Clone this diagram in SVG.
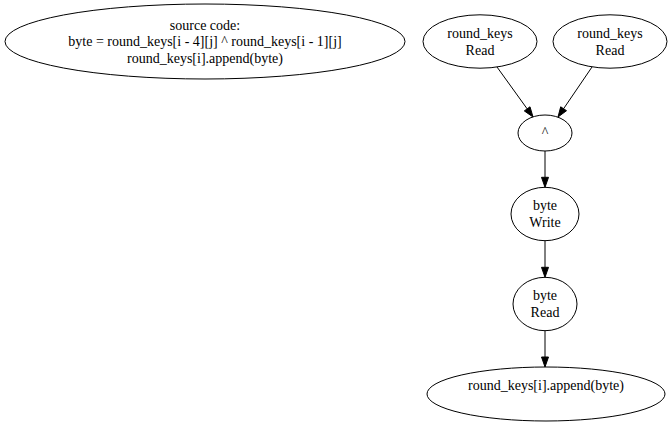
<svg xmlns="http://www.w3.org/2000/svg" width="671" height="426" viewBox="0 0 671 426">
<style>
ellipse{fill:none;stroke:#000;stroke-width:1}
text{font-family:"Liberation Serif","Times New Roman",serif;font-size:14px;text-anchor:middle;fill:#000}
.e line{stroke:#000;stroke-width:1}
.e polygon{fill:#000;stroke:#000;stroke-width:1}
</style>
<rect width="671" height="426" fill="#fff"/>
<g id="source">
<ellipse cx="205" cy="41.5" rx="200" ry="37.5"/>
<text x="205" y="29.5">source code:</text>
<text x="205" y="46.3">byte = round_keys[i - 4][j] ^ round_keys[i - 1][j]</text>
<text x="205" y="63.1">round_keys[i].append(byte)</text>
</g>
<g id="rk1">
<ellipse cx="480" cy="41.5" rx="57" ry="26.7"/>
<text x="480" y="37.7">round_keys</text>
<text x="480" y="54.5">Read</text>
</g>
<g id="rk2">
<ellipse cx="610" cy="41.5" rx="57" ry="26.7"/>
<text x="610" y="37.7">round_keys</text>
<text x="610" y="54.5">Read</text>
</g>
<g id="xor">
<ellipse cx="545" cy="133" rx="27" ry="18"/>
<text x="545" y="137.2">^</text>
</g>
<g id="bytew">
<ellipse cx="545" cy="214" rx="34" ry="26.7"/>
<text x="545" y="210.2">byte</text>
<text x="545" y="227">Write</text>
</g>
<g id="byter">
<ellipse cx="545" cy="304" rx="32" ry="26.7"/>
<text x="545" y="300.2">byte</text>
<text x="545" y="317">Read</text>
</g>
<g id="append">
<ellipse cx="546" cy="394" rx="119" ry="27"/>
<text x="546" y="390.2">round_keys[i].append(byte)</text>
</g>
<g id="edges" class="e">
<line x1="497" y1="67" x2="527.2" y2="108.9"/>
<polygon points="533,117 524.3,110.9 530,106.8"/>
<line x1="592" y1="67" x2="563.6" y2="108.7"/>
<polygon points="558,117 566.5,110.7 560.7,106.8"/>
<line x1="545" y1="151" x2="545" y2="177.3"/>
<polygon points="545,187.3 541.5,177.3 548.5,177.3"/>
<line x1="545" y1="240.7" x2="545" y2="267.3"/>
<polygon points="545,277.3 541.5,267.3 548.5,267.3"/>
<line x1="545" y1="330.7" x2="545" y2="357"/>
<polygon points="545,367 541.5,357 548.5,357"/>
</g>
</svg>
